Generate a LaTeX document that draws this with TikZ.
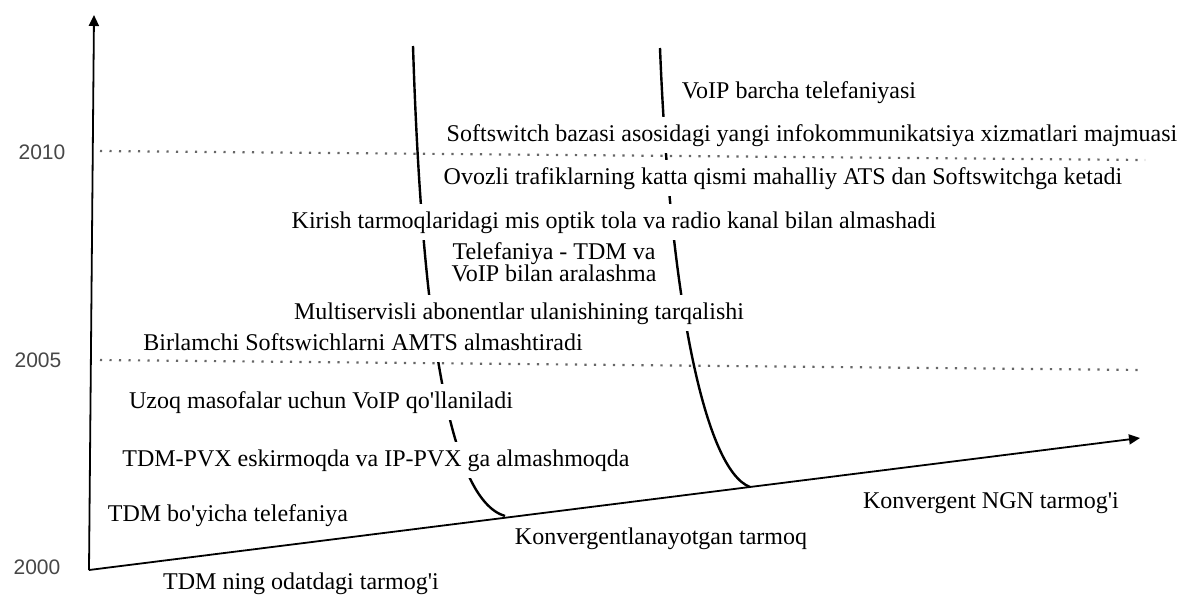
\documentclass[tikz,border=0pt]{standalone}
\usepackage{fontspec}
\setmainfont{Liberation Serif}[Ligatures=TeXOff]
\newfontfamily\yearfont{Liberation Sans}
\usetikzlibrary{arrows.meta}

\begin{document}
\begin{tikzpicture}[
    x=1pt, y=-1pt,
    axis/.style={line width=1.8pt, -{Triangle[length=11pt,width=10pt]}},
    trend/.style={line width=2.4pt},
    level/.style={dash pattern=on 2.2pt off 7.3pt, line width=2.2pt, black!60},
    event/.style={fill=white, inner xsep=3pt, inner ysep=7pt, align=center,
      font=\fontsize{24}{22}\selectfont, text height=17pt, text depth=5pt},
    year/.style={font=\yearfont\fontsize{21}{22}\selectfont, text=black!72}
  ]
    \useasboundingbox (0,0) rectangle (1184,595);
    \coordinate (o) at (89,570);
    \coordinate (ytip) at (94,15);
    \coordinate (xtip) at (1140,438);
    % migration curves
    \coordinate (c1top) at (413,46);
    \coordinate (c1end) at (505,516);
    \coordinate (c2top) at (660,48);
    \coordinate (c2end) at (750,487);
    \draw[trend] (c1top) .. controls (422,330) and (450,500) .. (c1end);
    \draw[trend] (c2top) .. controls (670,300) and (705,470) .. (c2end);
    % events
    \node[event] (voip) at (799,92) {VoIP barcha telefaniyasi};
    \node[event] (soft) at (812,135) {Softswitch bazasi asosidagi yangi infokommunikatsiya xizmatlari majmuasi};
    \node[event] (ovoz) at (783,178) {Ovozli trafiklarning katta qismi mahalliy ATS dan Softswitchga ketadi};
    \node[event] (kirish) at (614,222) {Kirish tarmoqlaridagi mis optik tola va radio kanal bilan almashadi};
    \node[event, text height=15pt, text depth=4pt, inner ysep=5pt] (mix) at (554,276) {Telefaniya - TDM va\\VoIP bilan aralashma};
    \node[event] (multi) at (519,313) {Multiservisli abonentlar ulanishining tarqalishi};
    \node[event] (birl) at (363,344) {Birlamchi Softswichlarni AMTS almashtiradi};
    \node[event] (uzoq) at (321,402) {Uzoq masofalar uchun VoIP qo'llaniladi};
    \node[event] (pvx) at (376,460) {TDM-PVX eskirmoqda va IP-PVX ga almashmoqda};
    \node[event] (tdm) at (228,515) {TDM bo'yicha telefaniya};
    \node[event] (odat) at (301,583) {TDM ning odatdagi tarmog'i};
    \node[event] (konv) at (661,538) {Konvergentlanayotgan tarmoq};
    \node[event] (ngn) at (991,502) {Konvergent NGN tarmog'i};
    % years
    \node[year] (y2010) at (42,152) {2010};
    \node[year] (y2005) at (38,360) {2005};
    \node[year] (y2000) at (37,567) {2000};
    \draw[level] (100,151) -- (1145,160);
    \draw[level] (100,360) -- (1143,370);
    \draw[axis] (o) -- (ytip);
    \draw[axis] (o) -- (xtip);
\end{tikzpicture}
\end{document}
